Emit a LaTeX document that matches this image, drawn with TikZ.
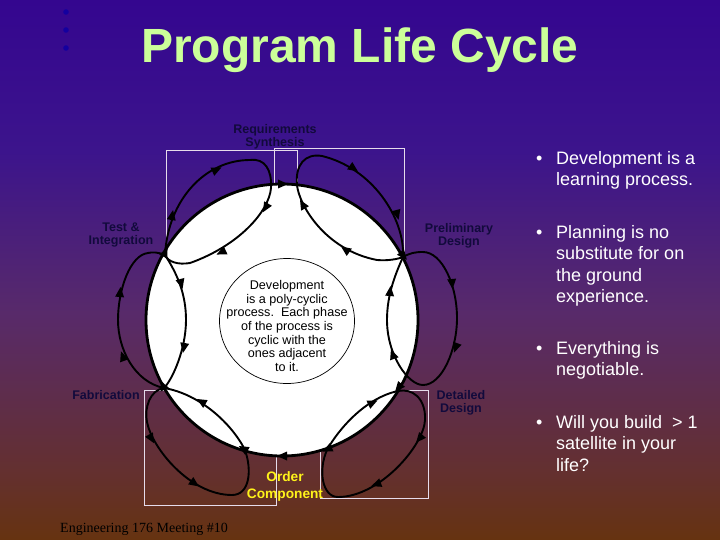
\documentclass[tikz,border=0pt]{standalone}
\usepackage{fontspec}
\setmainfont{Liberation Sans}
\newfontfamily\footerfont{Liberation Serif}
\definecolor{brownend}{HTML}{663310}
\definecolor{brownmid}{HTML}{64302E}
\definecolor{purplemid}{HTML}{582A6A}
\definecolor{indigomid}{HTML}{3C148C}
\definecolor{indigotop}{HTML}{34068F}
\definecolor{titlegreen}{HTML}{CCFF99}
\definecolor{phasenavy}{HTML}{120A3C}
\definecolor{rectline}{HTML}{E6DCEB}
\definecolor{dotblue}{HTML}{14009F}
\pgfdeclareverticalshading{slidebg}{100bp}{color(0bp)=(brownend); color(25bp)=(brownend); color(31bp)=(brownmid); color(46bp)=(purplemid); color(61bp)=(indigomid); color(75bp)=(indigotop); color(100bp)=(indigotop)}
\tikzset{
    phase/.style={font=\bfseries\fontsize{12.5}{13.5}\selectfont, text=phasenavy, align=center, inner sep=0pt},
    orderlabel/.style={font=\bfseries\fontsize{13.7}{17}\selectfont, text=yellow!90!white, align=center, inner sep=0pt},
    bullettext/.style={font=\fontsize{18}{21.5}\selectfont, text=white, align=left, anchor=north west, inner sep=0pt},
    loopline/.style={line width=1.9pt, line join=round},
    rectbox/.style={draw=rectline, line width=0.9pt},
}
\begin{document}
\begin{tikzpicture}[x=1pt,y=-1pt]
    \useasboundingbox (0,0) rectangle (720,540);
    \shade[shading=slidebg] (0,0) rectangle (720,540);
    % corner dots and title
    \foreach \y in {12,30,48} {
        \fill[dotblue] (66,\y) circle[radius=2.8];
    }
    \node[font=\bfseries\fontsize{48}{50}\selectfont, text=titlegreen, inner sep=0pt] (title) at (360,50) {Program Life Cycle};
    % phase boxes, partly hidden by the disc
    \draw[rectbox] (166,150) rectangle (297,266);
    \draw[rectbox] (274,148) rectangle (404,266);
    \draw[rectbox] (144,390) rectangle (276,505);
    \draw[rectbox] (320,390) rectangle (428,498);
    \draw[fill=white, line width=2.8pt] (282,320) circle[radius=136];
    % junctions on the rim
    \coordinate (test) at (165,255);
    \coordinate (prelim) at (403,257);
    \coordinate (detailed) at (398,391);
    \coordinate (fab) at (164,388);
    \coordinate (orderleft) at (245,450);
    \coordinate (orderright) at (327,450);
    % one loop per phase
    \draw[loopline] (test) .. controls (168,200) and (205,160) .. (250,160) .. controls (265,158) and (272,170) .. (271,188)
        .. controls (269,212) and (238,246) .. (190,263) .. controls (178,265) and (168,262) .. (test);
    \draw[loopline] (prelim) .. controls (405,218) and (372,168) .. (322,156) .. controls (305,153) and (295,165) .. (297,185)
        .. controls (299,205) and (325,250) .. (377,260) .. controls (388,261) and (398,259) .. (prelim);
    \draw[loopline] (prelim) .. controls (410,253) and (415,252) .. (423,252) .. controls (442,252) and (457,285) .. (457,318)
        .. controls (457,350) and (442,385) .. (423,385) .. controls (408,385) and (387,355) .. (387,320) .. controls (387,295) and (395,275) .. (prelim);
    \draw[loopline] (detailed) .. controls (412,388) and (426,398) .. (425,420) .. controls (424,445) and (380,497) .. (338,497)
        .. controls (322,497) and (318,470) .. (orderright) .. controls (338,430) and (365,398) .. (detailed);
    \draw[loopline] (fab) .. controls (150,390) and (144,408) .. (147,422) .. controls (152,448) and (190,495) .. (232,495)
        .. controls (250,495) and (252,470) .. (orderleft) .. controls (232,424) and (200,394) .. (fab);
    \draw[loopline] (test) .. controls (158,252) and (152,252) .. (148,253) .. controls (130,255) and (118,290) .. (118,320)
        .. controls (118,350) and (135,382) .. (fab) .. controls (172,380) and (186,350) .. (186,320) .. controls (186,295) and (178,275) .. (test);
    % arrow heads: x/y/angle
    \foreach \x/\y/\a in {282/184/0, 403/255/-50, 399/387/-130, 328/449/-155, 283/456/180, 244/449/150, 163/386/115, 165/253/65,
        216/170/25, 172/216/80, 266/207/-120, 222/252/-155,
        353/168/-35, 397/214/-75, 346/250/145, 303/205/120,
        452/283/-85, 456/347/-110, 393/355/110, 390/292/85,
        420/438/-130, 377/484/-160, 372/403/25,
        151/438/-60, 194/483/-35, 202/402/150,
        120/293/85, 123/357/110, 184/347/-100, 181/283/-75} {
        \fill[shift={(\x,\y)},rotate=\a] (6,0) -- (-4,4.5) -- (-4,-4.5) -- cycle;
    }
    % inner text disc
    \draw[line width=0.7pt] (287,321) ellipse[x radius=67.5, y radius=62.5];
    \node[font=\fontsize{12.6}{13.7}\selectfont, text=black, align=center, inner sep=0pt] (devtext) at (287,326) {Development\\is a poly-cyclic\\process.\ \ Each phase\\of the process is\\cyclic with the\\ones adjacent\\to it.};
    % phase names
    \node[phase] (reqlabel) at (275,137) {Requirements\\Synthesis};
    \node[phase] (testlabel) at (121,235) {Test \&\\Integration};
    \node[phase] (prelimlabel) at (459,236) {Preliminary\\Design};
    \node[phase] (fablabel) at (106,395) {Fabrication};
    \node[phase] (detlabel) at (461,403) {Detailed\\Design};
    \node[orderlabel] (orderlabel) at (285,486.5) {Order\\Component};
    % bullet list
    \foreach \y/\t in {149/{Development is a\\learning process.}, 223/{Planning is no\\substitute for on\\the ground\\experience.}, 339/{Everything is\\negotiable.}, 413/{Will you build\ \ > 1\\satellite in your\\life?}} {
        \node[bullettext] at (536,\y) {\strut •};
        \node[bullettext] at (556,\y) {\strut\t};
    }
    \node[font=\footerfont\fontsize{14}{16}\selectfont, text=black, anchor=west, inner sep=0pt] (footer) at (60,529) {Engineering 176 Meeting \#10};
\end{tikzpicture}
\end{document}
